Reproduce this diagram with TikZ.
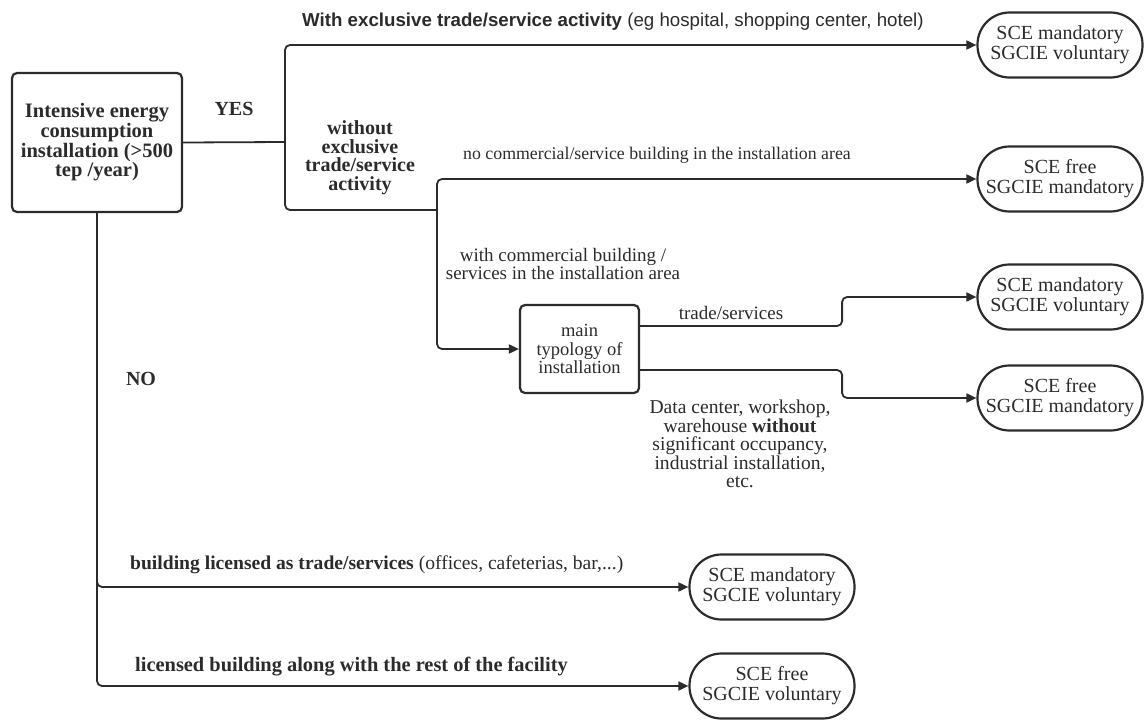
\documentclass[tikz,border=0pt]{standalone}
\usepackage{fontspec}
\setmainfont{Liberation Serif}
\newfontfamily\labelsans{Liberation Sans}
\usetikzlibrary{arrows.meta}
\definecolor{ink}{HTML}{2B2B2B}

\begin{document}
\begin{tikzpicture}[x=1pt,y=-1pt,
  every node/.style={text=ink, inner sep=0pt},
  line/.style={draw=ink, line width=1.8pt, rounded corners=5pt},
  arr/.style={line, -{Triangle[length=10pt,width=9pt]}},
  decision/.style={draw=ink, line width=2.2pt, rounded corners=5pt, align=center,
    font=\bfseries\fontsize{20.5}{18.5}\selectfont, minimum width=170pt, minimum height=139pt},
  typology/.style={draw=ink, line width=2.2pt, rounded corners=5pt, align=center,
    font=\fontsize{18.5}{18.5}\selectfont, minimum width=119pt, minimum height=88pt},
  outcome/.style={draw=ink, line width=2.2pt, rounded corners=32pt, align=center,
    minimum width=165pt, minimum height=65pt, font=\fontsize{20}{20}\selectfont},
  lbl/.style={align=center, font=\fontsize{19}{18.5}\selectfont},
  blbl/.style={align=center, font=\bfseries\fontsize{20}{18.5}\selectfont}
]
\useasboundingbox (0,0) rectangle (1144,720);

% decision boxes
\node[decision] (main) at (97,142.5) {Intensive energy\\consumption\\installation (>500\\tep /year)};
\node[typology] (typ) at (579.5,349) {main\\typology of\\installation};

% outcomes
\node[outcome] (r1) at (1060,45)  {SCE mandatory\\SGCIE voluntary};
\node[outcome] (r2) at (1060,179) {SCE free\\SGCIE mandatory};
\node[outcome] (r3) at (1060,297) {SCE mandatory\\SGCIE voluntary};
\node[outcome] (r4) at (1060,398) {SCE free\\SGCIE mandatory};
\node[outcome] (b1) at (772,587)  {SCE mandatory\\SGCIE voluntary};
\node[outcome] (b2) at (772,686)  {SCE free\\SGCIE voluntary};

% junctions
\coordinate (j1) at (285,142);
\coordinate (j2) at (437,210);

% connectors
\draw[line] (main.east) -- (j1);
\draw[arr] (j1) |- (r1.west);
\draw[line] (j1) |- (j2);
\draw[arr] (j2) |- (r2.west);
\draw[arr] (j2) |- (typ.west);
\draw[arr] ([yshift=23pt]typ.east) -- ++(202,0) |- (r3.west);
\draw[arr] ([yshift=-21pt]typ.east) -- ++(202,0) |- (r4.west);
\draw[arr] (main.south) |- (b1.west);
\draw[arr] (main.south) |- (b2.west);

% labels
\node[font=\labelsans\fontsize{18.7}{20}\selectfont, anchor=west] (ttop) at (302,22)
  {\textbf{With exclusive trade/service activity} (eg hospital, shopping center, hotel)};
\node[blbl] (yes) at (234,109) {YES};
\node[blbl] (no) at (141,379) {NO};
\node[blbl] (wo) at (360,157.5) {without\\exclusive\\trade/service\\activity};
\node[lbl, font=\fontsize{17.8}{18.5}\selectfont] (nocom) at (657,155)
  {no commercial/service building in the installation area};
\node[lbl] (withcom) at (563,264) {with commercial building /\\services in the installation area};
\node[lbl] (ts) at (731,313) {trade/services};
\node[lbl, font=\fontsize{19.6}{18.4}\selectfont] (dc) at (740,444)
  {Data center, workshop,\\warehouse \textbf{without}\\significant occupancy,\\industrial installation,\\etc.};
\node[lbl, anchor=west, font=\fontsize{19.6}{18.5}\selectfont] (lic1) at (130,565)
  {\textbf{building licensed as trade/services} (offices, cafeterias, bar,...)};
\node[blbl, anchor=west, font=\bfseries\fontsize{20.4}{18.5}\selectfont] (lic2) at (135,667)
  {licensed building along with the rest of the facility};
\end{tikzpicture}
\end{document}
